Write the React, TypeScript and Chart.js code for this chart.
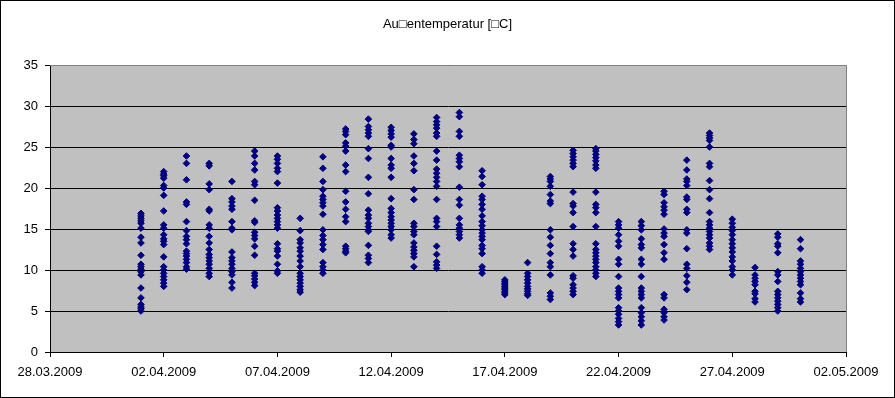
import React, { useEffect, useRef } from "react";
import { Chart, registerables } from "chart.js";

Chart.register(...registerables);

const title = "Au\u25A1entemperatur [\u25A1C]";
const startDate = Date.UTC(2009, 2, 28); // 28.03.2009 = day 0
const xMin = 0;
const xMax = 35;
const xStep = 5;
const yMin = 0;
const yMax = 35;
const yStep = 5;

// Temperatures (°C) per day of April 2009
const apr01 = [16.9, 16.6, 16.3, 16.0, 15.7, 15.1, 14.0, 13.3, 11.8, 10.7, 10.4, 10.1, 9.8, 9.4, 7.8, 6.6, 5.8, 5.5, 5.3, 5.0];
const apr02 = [22.0, 21.7, 21.5, 21.2, 20.3, 20.0, 19.1, 17.2, 15.5, 15.1, 14.3, 13.8, 13.5, 13.1, 11.6, 10.4, 10.0, 9.6, 9.2, 8.8, 8.4, 8.0];
const apr03 = [23.9, 23.0, 21.0, 18.3, 18.0, 15.9, 14.8, 14.1, 13.7, 13.2, 12.3, 12.0, 11.7, 11.3, 10.9, 10.4, 10.1];
const apr04 = [23.0, 22.7, 20.5, 19.8, 17.4, 17.2, 15.5, 15.1, 14.1, 13.3, 12.5, 11.9, 11.5, 11.1, 10.7, 10.2, 9.6, 9.2];
const apr05 = [20.8, 18.7, 18.3, 17.8, 17.4, 15.9, 15.1, 14.9, 12.2, 11.5, 11.1, 10.7, 10.2, 9.8, 9.4, 8.5, 7.8];
const apr06 = [24.5, 23.9, 23.0, 22.2, 20.8, 20.4, 18.5, 16.0, 15.8, 14.6, 14.2, 13.8, 12.9, 11.8, 9.6, 9.3, 8.9, 8.5, 8.1];
const apr07 = [23.9, 23.5, 23.0, 22.4, 22.0, 20.6, 17.6, 17.2, 16.7, 16.3, 15.9, 15.5, 15.1, 13.2, 12.6, 12.3, 11.7, 10.7, 9.9, 9.6];
const apr08 = [16.3, 14.8, 13.7, 13.3, 12.7, 12.3, 11.7, 11.1, 10.4, 9.6, 9.2, 8.8, 8.4, 8.0, 7.6, 7.3];
const apr09 = [23.8, 22.4, 20.8, 19.8, 19.0, 18.6, 18.2, 17.8, 16.8, 14.9, 14.2, 13.7, 13.1, 12.5, 10.9, 10.4, 10.0, 9.6];
const apr10 = [27.2, 26.9, 26.5, 25.5, 25.1, 24.5, 22.8, 22.0, 19.6, 18.3, 17.4, 16.5, 15.9, 12.9, 12.6, 12.3, 12.1];
const apr11 = [28.4, 27.5, 27.1, 26.7, 26.3, 24.8, 23.6, 21.3, 19.3, 17.3, 16.7, 16.3, 15.7, 15.3, 14.9, 14.7, 13.0, 11.8, 11.4, 10.9];
const apr12 = [27.4, 27.0, 26.6, 26.2, 25.2, 25.0, 23.6, 22.8, 22.4, 21.3, 18.7, 17.5, 17.0, 16.5, 16.1, 15.7, 15.3, 14.9, 14.3, 13.9];
const apr13 = [26.6, 25.9, 25.4, 23.9, 23.0, 22.1, 19.8, 18.6, 15.7, 15.3, 14.7, 14.3, 13.3, 12.8, 12.4, 12.0, 11.6, 10.4];
const apr14 = [28.6, 28.1, 27.7, 27.3, 26.7, 26.3, 24.5, 23.4, 22.3, 21.8, 21.3, 20.8, 20.2, 18.6, 16.3, 15.9, 15.3, 12.9, 11.9, 11.0, 10.6, 10.2];
const apr15 = [29.2, 28.7, 26.9, 26.3, 24.0, 23.6, 23.2, 22.6, 20.1, 18.6, 17.9, 16.3, 15.5, 15.1, 14.7, 14.3, 13.9];
const apr16 = [22.1, 21.4, 20.4, 19.0, 18.6, 18.0, 17.4, 16.6, 15.9, 15.4, 14.9, 14.5, 14.1, 13.7, 13.0, 12.6, 12.0, 10.4, 10.0, 9.6];
const apr17 = [8.8, 8.6, 8.4, 8.2, 8.0, 7.8, 7.6, 7.4, 7.2, 7.0];
const apr18 = [10.9, 9.6, 9.2, 8.8, 8.4, 8.0, 7.7, 7.4, 7.1, 6.9];
const apr19 = [21.4, 21.1, 20.8, 20.2, 19.2, 18.4, 18.1, 14.9, 14.0, 13.0, 12.0, 10.9, 10.4, 9.4, 7.2, 6.8, 6.4];
const apr20 = [24.6, 24.2, 23.8, 23.4, 23.0, 22.6, 19.5, 18.1, 17.8, 17.0, 15.3, 13.2, 12.5, 11.7, 9.3, 9.0, 8.2, 7.8, 7.4, 7.0];
const apr21 = [24.8, 24.5, 24.1, 23.7, 23.3, 22.8, 22.4, 19.5, 18.0, 17.6, 17.0, 15.3, 13.2, 12.5, 12.1, 11.7, 11.3, 10.9, 10.4, 10.0, 9.6, 9.2];
const apr22 = [15.9, 15.5, 15.1, 14.3, 13.5, 12.9, 11.3, 10.7, 9.2, 7.8, 7.4, 7.0, 6.6, 5.4, 5.0, 4.6, 4.1, 3.7, 3.3];
const apr23 = [15.9, 15.4, 14.9, 13.8, 13.1, 12.7, 11.3, 10.7, 9.2, 7.8, 7.4, 7.0, 6.6, 5.4, 4.8, 4.3, 3.8, 3.3];
const apr24 = [19.6, 19.2, 18.2, 17.7, 17.3, 16.8, 15.0, 14.5, 14.1, 13.1, 12.1, 11.3, 7.0, 6.6, 5.2, 4.8, 4.3, 3.9];
const apr25 = [23.4, 22.2, 21.1, 20.8, 20.3, 18.9, 18.6, 17.4, 17.0, 14.9, 14.5, 12.6, 10.7, 10.2, 9.3, 8.5, 7.6];
const apr26 = [26.7, 26.4, 26.1, 25.8, 25.0, 23.0, 22.6, 20.9, 19.8, 18.7, 17.0, 15.9, 15.5, 15.1, 14.7, 14.3, 13.9, 13.3, 12.9, 12.5];
const apr27 = [16.2, 15.7, 15.2, 14.8, 14.3, 13.7, 13.2, 12.7, 12.2, 11.6, 11.1, 10.4, 10.0, 9.4];
const apr28 = [10.3, 9.4, 9.0, 8.6, 8.2, 7.4, 7.1, 6.5, 6.1];
const apr29 = [14.4, 14.0, 13.2, 12.9, 12.1, 9.8, 9.4, 8.6, 7.4, 7.0, 6.6, 6.2, 5.8, 5.4, 5.0];
const apr30 = [13.7, 12.6, 11.1, 10.7, 10.2, 9.8, 9.4, 9.0, 8.6, 8.2, 7.2, 6.5, 6.1];

const aprilDays = [
  apr01, apr02, apr03, apr04, apr05, apr06, apr07, apr08, apr09, apr10,
  apr11, apr12, apr13, apr14, apr15, apr16, apr17, apr18, apr19, apr20,
  apr21, apr22, apr23, apr24, apr25, apr26, apr27, apr28, apr29, apr30,
];
const firstAprilOffset = 4; // 01.04.2009 is 4 days after 28.03.2009

function fmtDate(offset: number): string {
  const d = new Date(startDate + offset * 86400000);
  const dd = String(d.getUTCDate()).padStart(2, "0");
  const mm = String(d.getUTCMonth() + 1).padStart(2, "0");
  return `${dd}.${mm}.${d.getUTCFullYear()}`;
}

const FONT = "'Liberation Sans', Arial, sans-serif";

export default function App() {
  const ref = useRef<HTMLCanvasElement | null>(null);

  useEffect(() => {
    document.body.style.margin = "0";
    const canvas = ref.current;
    if (!canvas) return;

    const points: { x: number; y: number }[] = [];
    aprilDays.forEach((vals, i) => {
      vals.forEach((v) => points.push({ x: firstAprilOffset + i, y: v }));
    });

    const bgPlugin = {
      id: "excelBg",
      beforeDraw(chart: any) {
        const { ctx, chartArea } = chart;
        ctx.save();
        ctx.fillStyle = "#ffffff";
        ctx.fillRect(0, 0, chart.width, chart.height);
        ctx.fillStyle = "#C0C0C0";
        ctx.fillRect(chartArea.left, chartArea.top, chartArea.right - chartArea.left, chartArea.bottom - chartArea.top);
        ctx.restore();
      },
      afterDraw(chart: any) {
        const { ctx, chartArea } = chart;
        ctx.save();
        ctx.strokeStyle = "#808080";
        ctx.lineWidth = 1;
        ctx.beginPath();
        ctx.moveTo(chartArea.left, Math.round(chartArea.top) + 0.5);
        ctx.lineTo(Math.round(chartArea.right) + 0.5, Math.round(chartArea.top) + 0.5);
        ctx.lineTo(Math.round(chartArea.right) + 0.5, chartArea.bottom);
        ctx.stroke();
        ctx.strokeStyle = "#000000";
        ctx.strokeRect(0.5, 0.5, chart.width - 1, chart.height - 1);
        // chart title, centred on the whole chart
        ctx.fillStyle = "#000000";
        ctx.font = `13px ${FONT}`;
        ctx.textAlign = "center";
        ctx.textBaseline = "middle";
        ctx.fillText(title, chart.width / 2, 24.5);
        ctx.restore();
      },
    };

    const chart = new Chart(canvas, {
      type: "scatter",
      data: {
        datasets: [
          {
            label: title,
            data: points,
            pointStyle: "rectRot",
            pointRadius: 3.3,
            pointBorderWidth: 1,
            backgroundColor: "#000080",
            borderColor: "#000080",
          },
        ],
      },
      options: {
        responsive: false,
        animation: false,
        events: [],
        layout: { padding: { left: 0, right: 49, top: 65, bottom: 0 } },
        plugins: {
          legend: { display: false },
          tooltip: { enabled: false },
          title: { display: false },
        },
        scales: {
          x: {
            type: "linear",
            min: xMin,
            max: xMax,
            afterFit: (s: any) => {
              s.height = 46;
            },
            ticks: {
              stepSize: xStep,
              autoSkip: false,
              maxRotation: 0,
              minRotation: 0,
              color: "#000000",
              padding: 8,
              font: { family: FONT, size: 13 },
              callback: (v: any) => fmtDate(Number(v)),
            },
            grid: {
              drawOnChartArea: false,
              drawTicks: true,
              tickLength: 5,
              color: "#000000",
            },
            border: { display: true, color: "#000000" },
          },
          y: {
            type: "linear",
            min: yMin,
            max: yMax,
            afterFit: (s: any) => {
              s.width = 50;
            },
            ticks: {
              stepSize: yStep,
              color: "#000000",
              padding: 7,
              font: { family: FONT, size: 13 },
            },
            grid: {
              drawOnChartArea: true,
              drawTicks: true,
              tickLength: 5,
              color: "#000000",
            },
            border: { display: true, color: "#000000" },
          },
        },
      },
      plugins: [bgPlugin],
    });

    return () => chart.destroy();
  }, []);

  return <canvas ref={ref} width={895} height={398} style={{ display: "block" }} />;
}
